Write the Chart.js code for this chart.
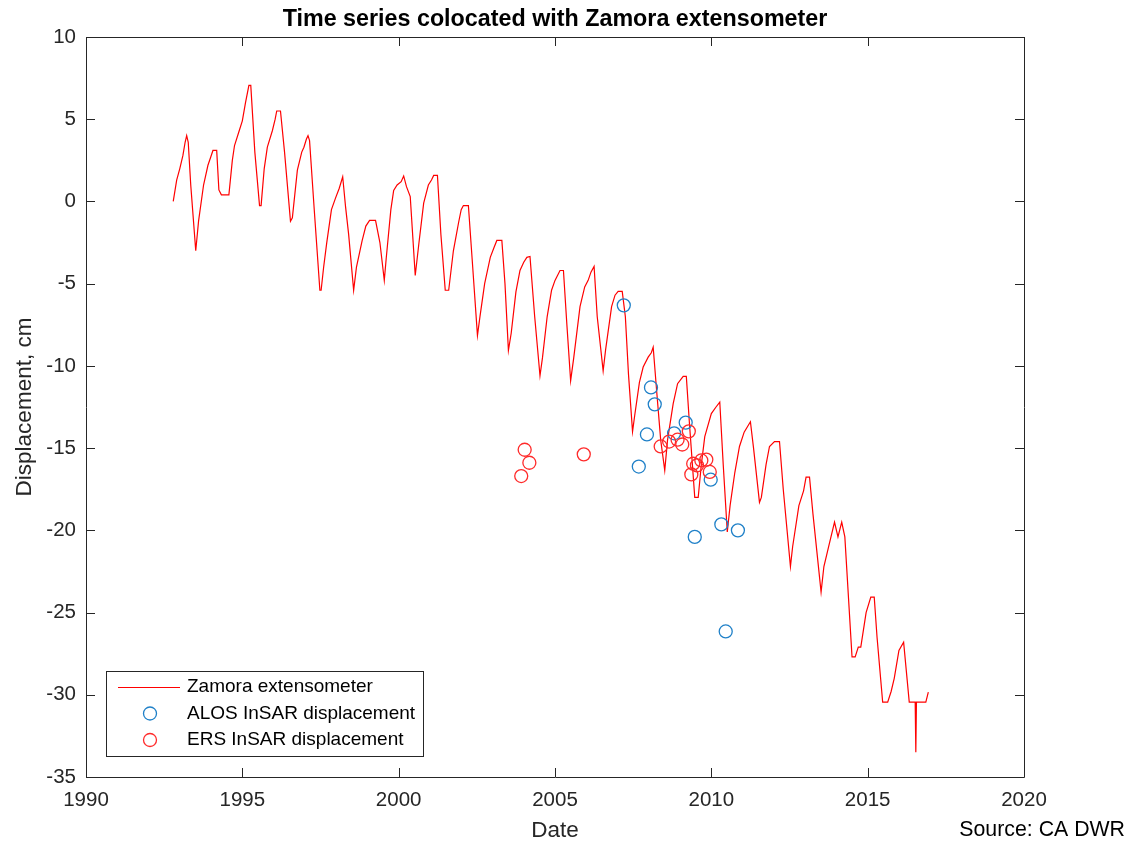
<!DOCTYPE html>
<html>
<head>
<meta charset="utf-8">
<script src="https://cdn.jsdelivr.net/npm/chart.js@4.4.1/dist/chart.umd.min.js"></script>
<style>
  html, body { margin: 0; padding: 0; background: #fff; }
  #wrap { width: 1143px; height: 842px; position: relative; }
</style>
</head>
<body>
<div id="wrap"><canvas id="chart1" width="1143" height="842"></canvas></div>
<script>
// Zamora extensometer (decimal year, displacement cm)
const zamoraDates = [
  1992.79, 1992.9, 1993.0, 1993.1, 1993.17, 1993.22, 1993.27, 1993.35, 1993.51, 1993.6,
  1993.76, 1993.9, 1993.99, 1994.06, 1994.18, 1994.25, 1994.33, 1994.57, 1994.68, 1994.75,
  1994.9, 1995.0, 1995.1, 1995.21, 1995.27, 1995.4, 1995.55, 1995.6, 1995.7, 1995.8,
  1995.96, 1996.05, 1996.1, 1996.22, 1996.35, 1996.54, 1996.6, 1996.76, 1996.9, 1996.97,
  1997.05, 1997.1, 1997.15, 1997.3, 1997.48, 1997.52, 1997.6, 1997.7, 1997.85, 1997.98,
  1998.1, 1998.21, 1998.3, 1998.4, 1998.56, 1998.65, 1998.83, 1998.95, 1999.07, 1999.26,
  1999.4, 1999.54, 1999.6, 1999.75, 1999.84, 1999.95, 2000.08, 2000.16, 2000.25, 2000.37,
  2000.53, 2000.65, 2000.8, 2000.95, 2001.05, 2001.12, 2001.24, 2001.35, 2001.49, 2001.6,
  2001.75, 2001.92, 2002.0, 2002.07, 2002.23, 2002.35, 2002.52, 2002.6, 2002.75, 2002.93,
  2003.05, 2003.14, 2003.3, 2003.4, 2003.51, 2003.6, 2003.75, 2003.88, 2004.0, 2004.1,
  2004.2, 2004.35, 2004.52, 2004.6, 2004.75, 2004.89, 2005.0, 2005.16, 2005.27, 2005.38,
  2005.5, 2005.6, 2005.8, 2005.95, 2006.06, 2006.15, 2006.25, 2006.35, 2006.54, 2006.62,
  2006.81, 2006.92, 2007.02, 2007.15, 2007.25, 2007.35, 2007.48, 2007.55, 2007.7, 2007.82,
  2007.98, 2008.08, 2008.14, 2008.25, 2008.38, 2008.51, 2008.6, 2008.78, 2008.92, 2009.1,
  2009.2, 2009.3, 2009.47, 2009.58, 2009.68, 2009.79, 2010.0, 2010.15, 2010.27, 2010.38,
  2010.51, 2010.6, 2010.75, 2010.9, 2011.05, 2011.25, 2011.35, 2011.54, 2011.6, 2011.75,
  2011.86, 2012.02, 2012.18, 2012.3, 2012.53, 2012.6, 2012.8, 2012.95, 2013.03, 2013.14,
  2013.25, 2013.51, 2013.6, 2013.75, 2013.94, 2014.05, 2014.17, 2014.27, 2014.5, 2014.6,
  2014.7, 2014.78, 2014.95, 2015.1, 2015.21, 2015.3, 2015.48, 2015.64, 2015.75, 2015.85,
  2016.0, 2016.15, 2016.33, 2016.52, 2016.54, 2016.56, 2016.86, 2016.94
];
const zamoraDisp = [
  0.0, 1.3, 2.0, 2.8, 3.6, 4.0, 3.6, 1.0, -3.0, -1.2,
  1.0, 2.2, 2.7, 3.1, 3.1, 0.7, 0.4, 0.4, 2.5, 3.4,
  4.3, 4.9, 6.0, 7.06, 7.06, 3.0, -0.25, -0.25, 2.0, 3.3,
  4.3, 5.0, 5.5, 5.5, 3.0, -1.2, -1.0, 1.9, 3.0, 3.3,
  3.8, 4.0, 3.7, -0.5, -5.4, -5.4, -4.0, -2.5, -0.5, 0.2,
  0.8, 1.5, -0.3, -2.0, -5.4, -4.0, -2.4, -1.5, -1.15, -1.15,
  -2.5, -4.8, -3.5, -0.5, 0.67, 1.0, 1.2, 1.55, 0.9, 0.3,
  -4.5, -2.5, -0.1, 1.0, 1.3, 1.58, 1.58, -2.0, -5.4, -5.4,
  -3.0, -1.25, -0.5, -0.25, -0.25, -3.5, -8.15, -7.0, -5.0, -3.4,
  -2.8, -2.37, -2.37, -5.0, -9.06, -8.0, -5.5, -4.2, -3.7, -3.4,
  -3.35, -7.0, -10.6, -9.5, -7.0, -5.4, -4.8, -4.2, -4.2, -7.5,
  -10.9, -9.5, -6.4, -5.2, -4.8, -4.3, -3.95, -7.0, -10.3, -9.0,
  -6.4, -5.7, -5.47, -5.47, -7.0, -10.5, -14.0, -13.0, -11.0, -10.07,
  -9.47, -9.2, -8.86, -11.5, -14.5, -16.35, -14.5, -12.3, -11.08, -10.64,
  -10.64, -13.5, -18.0, -18.0, -16.0, -14.3, -12.9, -12.5, -12.2, -16.0,
  -20.1, -18.5, -16.5, -14.9, -14.03, -13.4, -15.0, -18.3, -18.0, -16.0,
  -14.9, -14.6, -14.6, -17.5, -22.2, -21.0, -18.5, -17.6, -16.76, -16.76,
  -19.0, -23.76, -22.2, -21.0, -19.5, -20.4, -19.5, -20.4, -27.7, -27.7,
  -27.1, -27.1, -25.0, -24.06, -24.06, -26.5, -30.45, -30.45, -29.8, -29.0,
  -27.3, -26.8, -30.45, -30.45, -33.5, -30.45, -30.45, -29.84
];

// ALOS InSAR displacement
const alosDates = [2007.2, 2008.07, 2008.19, 2007.94, 2007.68, 2009.18, 2008.81, 2009.98, 2010.32, 2009.47, 2010.85, 2010.46];
const alosDisp = [-6.32, -11.31, -12.34, -14.17, -16.12, -13.45, -14.1, -16.92, -19.64, -20.4, -20.0, -26.15];

// ERS InSAR displacement
const ersDates = [2003.92, 2004.03, 2004.18, 2005.92, 2008.38, 2008.65, 2008.92, 2009.07, 2009.28, 2009.36, 2009.42, 2009.54, 2009.68, 2009.84, 2009.95];
const ersDisp = [-16.7, -15.1, -15.89, -15.38, -14.9, -14.6, -14.49, -14.78, -13.98, -16.6, -15.95, -16.05, -15.75, -15.7, -16.45];

const xTicks = [1990, 1995, 2000, 2005, 2010, 2015, 2020];
const yTicks = [10, 5, 0, -5, -10, -15, -20, -25, -30, -35];

const FONT = "'Liberation Sans', Arial, sans-serif";
const AXIS_COLOR = '#262626';
const BLUE = '#1f80c8';
const RED = '#FF0000';
const RED_MARK = '#ff2a2a';

function pairs(xs, ys) {
  return xs.map((x, i) => ({ x: x, y: ys[i] }));
}

// Box, inward ticks, title, legend, source note
const decorations = {
  id: 'decorations',
  afterDatasetsDraw(chart) {
    const ctx = chart.ctx;
    const a = chart.chartArea;
    const xs = chart.scales.x;
    const ys = chart.scales.y;
    const tl = 9;
    ctx.save();
    ctx.strokeStyle = AXIS_COLOR;
    ctx.lineWidth = 1;
    ctx.beginPath();
    ctx.rect(a.left + 0.5, a.top + 0.5, a.right - a.left, a.bottom - a.top);
    xTicks.forEach(v => {
      const px = Math.round(xs.getPixelForValue(v)) + 0.5;
      ctx.moveTo(px, a.bottom); ctx.lineTo(px, a.bottom - tl);
      ctx.moveTo(px, a.top); ctx.lineTo(px, a.top + tl);
    });
    yTicks.forEach(v => {
      const py = Math.round(ys.getPixelForValue(v)) + 0.5;
      ctx.moveTo(a.left, py); ctx.lineTo(a.left + tl, py);
      ctx.moveTo(a.right, py); ctx.lineTo(a.right - tl, py);
    });
    ctx.stroke();

    // title
    ctx.fillStyle = '#000';
    ctx.font = 'bold 23.3px ' + FONT;
    ctx.textAlign = 'center';
    ctx.textBaseline = 'middle';
    ctx.fillText('Time series colocated with Zamora extensometer', (a.left + a.right) / 2, 20);

    // legend
    const lx = 106, ly = 671, lw = 317, lh = 85;
    ctx.fillStyle = '#fff';
    ctx.fillRect(lx, ly, lw, lh);
    ctx.strokeStyle = AXIS_COLOR;
    ctx.strokeRect(lx + 0.5, ly + 0.5, lw, lh);
    const rows = [687, 713.5, 740];
    ctx.strokeStyle = RED;
    ctx.lineWidth = 1.2;
    ctx.beginPath();
    ctx.moveTo(118, rows[0] + 0.5); ctx.lineTo(180, rows[0] + 0.5);
    ctx.stroke();
    ctx.lineWidth = 1.3;
    ctx.strokeStyle = BLUE;
    ctx.beginPath(); ctx.arc(150, rows[1], 6.5, 0, Math.PI * 2); ctx.stroke();
    ctx.strokeStyle = RED_MARK;
    ctx.beginPath(); ctx.arc(150, rows[2], 6.5, 0, Math.PI * 2); ctx.stroke();
    ctx.fillStyle = '#000';
    ctx.font = '19px ' + FONT;
    ctx.textAlign = 'left';
    ctx.fillText('Zamora extensometer', 187, rows[0]);
    ctx.fillText('ALOS InSAR displacement', 187, rows[1]);
    ctx.fillText('ERS InSAR displacement', 187, rows[2]);

    // source
    ctx.font = '21.3px ' + FONT;
    ctx.textAlign = 'right';
    ctx.fillText('Source: CA DWR', 1125, 830);
    ctx.restore();
  }
};

const ctx = document.getElementById('chart1').getContext('2d');
const chart = new Chart(ctx, {
  type: 'line',
  data: {
    datasets: [
      {
        label: 'Zamora extensometer',
        data: pairs(zamoraDates, zamoraDisp),
        borderColor: RED,
        borderWidth: 1.2,
        pointRadius: 0,
        tension: 0,
        fill: false,
        order: 3,
      },
      {
        type: 'scatter',
        label: 'ALOS InSAR displacement',
        data: pairs(alosDates, alosDisp),
        borderColor: BLUE,
        backgroundColor: 'rgba(0,0,0,0)',
        borderWidth: 1.3,
        pointRadius: 6.5,
        order: 2,
      },
      {
        type: 'scatter',
        label: 'ERS InSAR displacement',
        data: pairs(ersDates, ersDisp),
        borderColor: RED_MARK,
        backgroundColor: 'rgba(0,0,0,0)',
        borderWidth: 1.3,
        pointRadius: 6.5,
        order: 1,
      },
    ],
  },
  options: {
    responsive: false,
    animation: false,
    layout: { padding: { top: 37, right: 119, left: 0, bottom: 0 } },
    plugins: {
      legend: { display: false },
      title: { display: false },
      tooltip: { enabled: false },
    },
    scales: {
      x: {
        type: 'linear',
        min: 1990,
        max: 2020,
        afterFit: s => { s.height = 65; },
        afterBuildTicks: s => { s.ticks = xTicks.map(v => ({ value: v })); },
        grid: { display: false, drawTicks: false },
        border: { display: false },
        ticks: {
          padding: 11,
          color: AXIS_COLOR,
          font: { family: FONT, size: 20.5 },
          callback: v => String(v),
        },
        title: {
          display: true,
          text: 'Date',
          color: AXIS_COLOR,
          font: { family: FONT, size: 22.5 },
          padding: { top: 0, bottom: -2 },
        },
      },
      y: {
        type: 'linear',
        min: -35,
        max: 10,
        afterFit: s => { s.width = 86; },
        afterBuildTicks: s => { s.ticks = yTicks.map(v => ({ value: v })); },
        grid: { display: false, drawTicks: false },
        border: { display: false },
        ticks: {
          padding: 10,
          color: AXIS_COLOR,
          font: { family: FONT, size: 20.5 },
          callback: v => String(v),
        },
        title: {
          display: true,
          text: 'Displacement, cm',
          color: AXIS_COLOR,
          font: { family: FONT, size: 22.5 },
          padding: { top: 11, bottom: 0 },
        },
      },
    },
  },
  plugins: [decorations],
});
</script>
</body>
</html>
